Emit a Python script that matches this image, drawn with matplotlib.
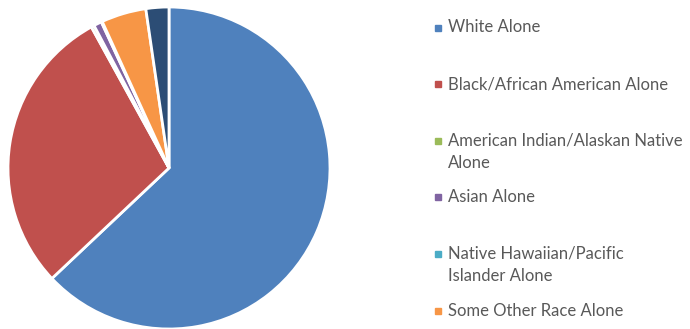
import matplotlib
matplotlib.use("Agg")
import matplotlib.pyplot as plt

categories = ["White Alone", "Black/African American Alone",
              "American Indian/Alaskan Native\nAlone", "Asian Alone",
              "Native Hawaiian/Pacific\nIslander Alone", "Some Other Race Alone",
              "Two or More Races"]
values = [62.9, 29.0, 0.3, 0.8, 0.1, 4.5, 2.3]
colors = ["#4F81BD", "#C0504D", "#9BBB59", "#8064A2", "#4BACC6", "#F79646", "#2C4D75"]

W, H = 690, 329
fig = plt.figure(figsize=(W / 100, H / 100), dpi=100)
cx, cy, r = 169, 168, 161
ax = fig.add_axes([(cx - r) / W, (H - cy - r) / H, 2 * r / W, 2 * r / H])
ax.pie(values, colors=colors, startangle=90, counterclock=False, radius=1,
       wedgeprops=dict(edgecolor="white", linewidth=2))
ax.set_xlim(-1.0, 1.0)
ax.set_ylim(-1.0, 1.0)
ax.axis("off")

# legend
y0, step, line_h = 27.5, 56.6, 22
mx, tx = 438, 448
for i, (lab, col) in enumerate(zip(categories, colors)):
    y = y0 + i * step
    if y > H:
        break
    fig.patches.append(plt.Rectangle(((mx - 3) / W, (H - y - 3) / H), 6 / W, 6 / H,
                                     transform=fig.transFigure, color=col, figure=fig))
    for j, line in enumerate(lab.split("\n")):
        fig.text(tx / W, (H - y - j * line_h) / H, line, ha="left", va="center",
                 fontsize=12, color="#595959", family="Lato")

fig.savefig("out.png", dpi=100)
